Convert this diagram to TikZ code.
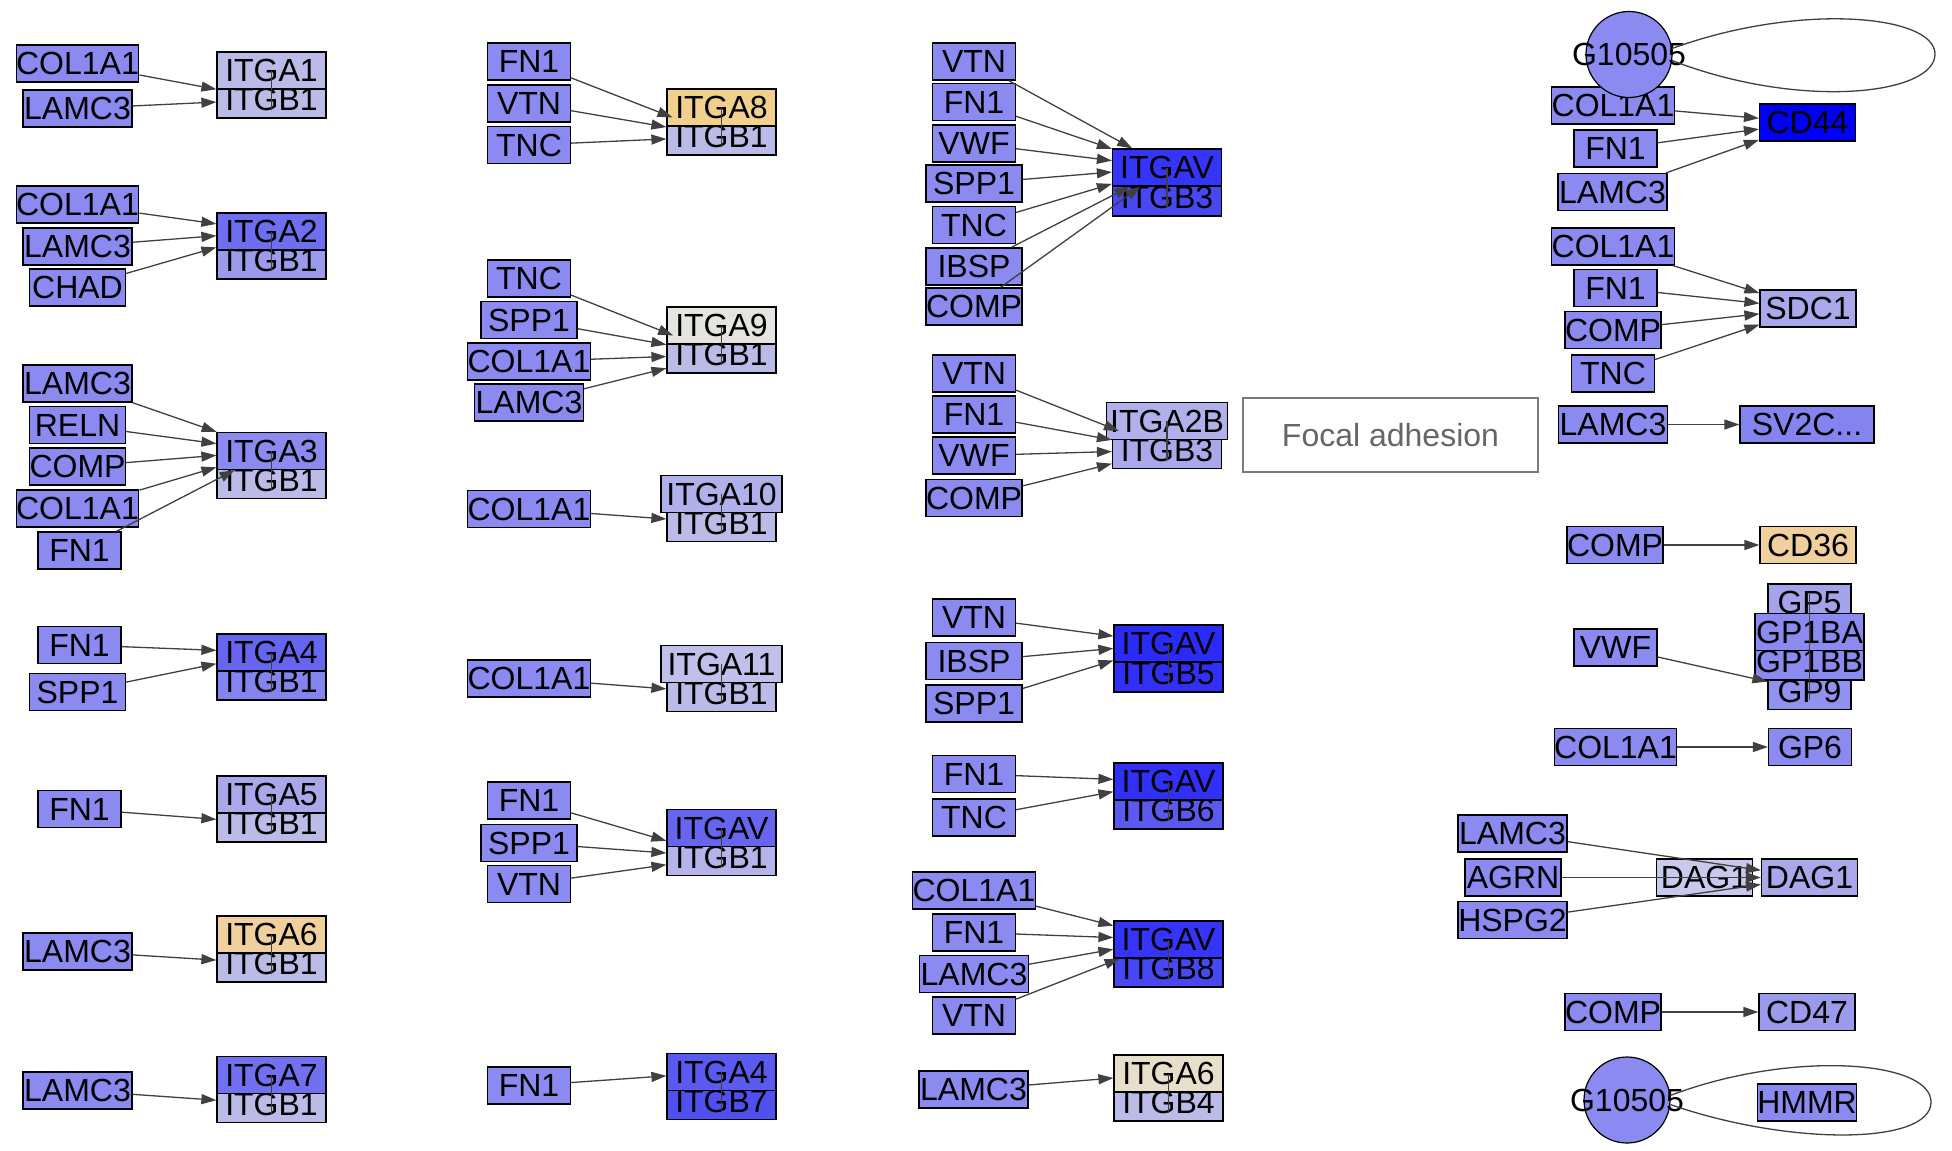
\documentclass[tikz,border=0pt]{standalone}
\usepackage{fontspec}
\setmainfont{Liberation Sans}
\usetikzlibrary{arrows.meta}

\definecolor{ligblue}{HTML}{8A8AF0}
\definecolor{paleb}{HTML}{BBBBE8}
\definecolor{midb}{HTML}{9B9BEB}
\definecolor{deepb}{HTML}{6E6EF0}
\definecolor{deepc}{HTML}{6565F0}
\definecolor{softb}{HTML}{8484F0}
\definecolor{lilac}{HTML}{A8A8EA}
\definecolor{lilacb}{HTML}{B0B0EA}
\definecolor{lilacc}{HTML}{C0C0EA}
\definecolor{lilacd}{HTML}{B4B4EA}
\definecolor{sand}{HTML}{F0D09C}
\definecolor{sandb}{HTML}{F0D08C}
\definecolor{chalk}{HTML}{E6E4E0}
\definecolor{beige}{HTML}{E8DFCB}
\definecolor{royal}{HTML}{7070F0}
\definecolor{royalb}{HTML}{5A5AF0}
\definecolor{royalc}{HTML}{5050F0}
\definecolor{strong}{HTML}{3434FA}
\definecolor{strongb}{HTML}{4848F2}
\definecolor{strongc}{HTML}{2A2AFA}
\definecolor{strongd}{HTML}{3030F8}
\definecolor{pureb}{HTML}{0000F5}
\definecolor{edgegray}{HTML}{404040}
\definecolor{notegray}{HTML}{7A7A7A}
\definecolor{notetext}{HTML}{666666}

\newcommand{\genefont}{\fontsize{32}{32}\selectfont}

\begin{document}
\begin{tikzpicture}[
    x=1pt, y=-1pt,
    >={Triangle[length=15pt,width=10pt]},
    gene/.style={draw=black, line width=1.2pt, inner sep=0pt, minimum height=37pt, font=\genefont},
    lig/.style={gene, fill=ligblue},
    w3/.style={minimum width=83pt},
    w4/.style={minimum width=96pt},
    w5/.style={minimum width=109pt},
    w6/.style={minimum width=121pt},
    w7/.style={minimum width=134pt},
    hub/.style={circle, draw=black, line width=1.2pt, fill=ligblue, minimum size=86pt, inner sep=0pt,
                label={[font=\genefont]center:#1}},
    link/.style={->, draw=edgegray, line width=1.3pt},
    tie/.style={draw=edgegray, line width=1.3pt},
    note/.style={draw=notegray, line width=1.3pt, minimum width=295pt, minimum height=74pt, text=notetext, font=\genefont}
]
\useasboundingbox (0,0) rectangle (1952,1151);

% column 1
\node[lig,w6] (g1col) at (77.5,63.5) {COL1A1};
\node[lig,w5] (g1lam) at (77.5,108.5) {LAMC3};
\node[gene,w5,fill=paleb] (g1b) at (271.5,99.5) {ITGB1};
\node[gene,w5,fill=paleb] (g1a) at (271.5,70.5) {ITGA1};

\node[lig,w6] (g2col) at (77.5,204.5) {COL1A1};
\node[lig,w5] (g2lam) at (77.5,246.5) {LAMC3};
\node[lig,w4] (g2chad) at (77.5,287.5) {CHAD};
\node[gene,w5,fill=midb] (g2b) at (271.5,260.5) {ITGB1};
\node[gene,w5,fill=deepb] (g2a) at (271.5,231.5) {ITGA2};

\node[lig,w5] (g3lam) at (77.5,383.5) {LAMC3};
\node[lig,w4] (g3reln) at (77.5,425) {RELN};
\node[lig,w4] (g3comp) at (77.5,466.5) {COMP};
\node[lig,w6] (g3col) at (77.5,508.5) {COL1A1};
\node[lig,w3] (g3fn) at (79.5,550.5) {FN1};
\node[gene,w5,fill=paleb] (g3b) at (271.5,480) {ITGB1};
\node[gene,w5,fill=ligblue] (g3a) at (271.5,451) {ITGA3};

\node[lig,w3] (g4fn) at (79.5,645) {FN1};
\node[lig,w4] (g4spp) at (77.5,692) {SPP1};
\node[gene,w5,fill=softb] (g4b) at (271.5,681.5) {ITGB1};
\node[gene,w5,fill=deepc] (g4a) at (271.5,652.5) {ITGA4};

\node[lig,w3] (g5fn) at (79.5,809) {FN1};
\node[gene,w5,fill=paleb] (g5b) at (271.5,823.5) {ITGB1};
\node[gene,w5,fill=lilac] (g5a) at (271.5,794.5) {ITGA5};

\node[lig,w5] (g6lam) at (77.5,951.5) {LAMC3};
\node[gene,w5,fill=paleb] (g6b) at (271.5,963.5) {ITGB1};
\node[gene,w5,fill=sand] (g6a) at (271.5,934.5) {ITGA6};

\node[lig,w5] (g7lam) at (77.5,1090.5) {LAMC3};
\node[gene,w5,fill=paleb] (g7b) at (271.5,1104) {ITGB1};
\node[gene,w5,fill=royal] (g7a) at (271.5,1075) {ITGA7};

% column 2
\node[lig,w3] (g8fn) at (529,61.5) {FN1};
\node[lig,w3] (g8vtn) at (529,103.5) {VTN};
\node[lig,w3] (g8tnc) at (529,145) {TNC};
\node[gene,w5,fill=paleb] (g8b) at (721.5,136.5) {ITGB1};
\node[gene,w5,fill=sandb] (g8a) at (721.5,107.5) {ITGA8};

\node[lig,w3] (g9tnc) at (529,278.5) {TNC};
\node[lig,w4] (g9spp) at (529,320) {SPP1};
\node[lig,w6] (g9col) at (529,361.5) {COL1A1};
\node[lig,w5] (g9lam) at (529,402.5) {LAMC3};
\node[gene,w5,fill=paleb] (g9b) at (721.5,354.5) {ITGB1};
\node[gene,w5,fill=chalk] (g9a) at (721.5,325.5) {ITGA9};

\node[lig,w6] (g10col) at (529,509) {COL1A1};
\node[gene,w5,fill=paleb] (g10b) at (721.5,523) {ITGB1};
\node[gene,w6,fill=lilacb] (g10a) at (721.5,494) {ITGA10};

\node[lig,w6] (g11col) at (529,678.5) {COL1A1};
\node[gene,w5,fill=paleb] (g11b) at (721.5,693) {ITGB1};
\node[gene,w6,fill=lilacc] (g11a) at (721.5,664) {ITGA11};

\node[lig,w3] (g12fn) at (529,800.5) {FN1};
\node[lig,w4] (g12spp) at (529,843) {SPP1};
\node[lig,w3] (g12vtn) at (529,884) {VTN};
\node[gene,w5,fill=lilacd] (g12b) at (721.5,857) {ITGB1};
\node[gene,w5,fill=deepc] (g12a) at (721.5,828) {ITGAV};

\node[lig,w3] (g13fn) at (529,1085.5) {FN1};
\node[gene,w5,fill=royalc] (g13b) at (721.5,1101) {ITGB7};
\node[gene,w5,fill=royalb] (g13a) at (721.5,1072) {ITGA4};

% column 3
\node[lig,w3] (g14vtn) at (974,61.5) {VTN};
\node[lig,w3] (g14fn) at (974,102) {FN1};
\node[lig,w3] (g14vwf) at (974,143.5) {VWF};
\node[lig,w4] (g14spp) at (974,183.5) {SPP1};
\node[lig,w3] (g14tnc) at (974,225) {TNC};
\node[lig,w4] (g14ibsp) at (974,266.5) {IBSP};
\node[lig,w4] (g14comp) at (974,306.5) {COMP};
\node[gene,w5,fill=strongb] (g14b) at (1167,197.5) {ITGB3};
\node[gene,w5,fill=strong] (g14a) at (1167,167.5) {ITGAV};

\node[lig,w3] (g15vtn) at (974,373.5) {VTN};
\node[lig,w3] (g15fn) at (974,414.5) {FN1};
\node[lig,w3] (g15vwf) at (974,455.5) {VWF};
\node[lig,w4] (g15comp) at (974,498) {COMP};
\node[gene,w5,fill=lilac] (g15b) at (1167,450) {ITGB3};
\node[gene,w6,fill=lilacb] (g15a) at (1167,421) {ITGA2B};

\node[lig,w3] (g16vtn) at (974,617.5) {VTN};
\node[lig,w4] (g16ibsp) at (974,661) {IBSP};
\node[lig,w4] (g16spp) at (974,703.5) {SPP1};
\node[gene,w5,fill=strongd] (g16b) at (1168.5,673.5) {ITGB5};
\node[gene,w5,fill=strongc] (g16a) at (1168.5,643.5) {ITGAV};

\node[lig,w3] (g17fn) at (974,774) {FN1};
\node[lig,w3] (g17tnc) at (974,817.5) {TNC};
\node[gene,w5,fill=royalb] (g17b) at (1168.5,810.5) {ITGB6};
\node[gene,w5,fill=strongd] (g17a) at (1168.5,781.5) {ITGAV};

\node[lig,w6] (g18col) at (974,890.5) {COL1A1};
\node[lig,w3] (g18fn) at (974,932.5) {FN1};
\node[lig,w5] (g18lam) at (974,974) {LAMC3};
\node[lig,w3] (g18vtn) at (974,1015.5) {VTN};
\node[gene,w5,fill=strongb] (g18b) at (1168.5,968.5) {ITGB8};
\node[gene,w5,fill=strong] (g18a) at (1168.5,939.5) {ITGAV};

\node[lig,w5] (g19lam) at (973.5,1089.5) {LAMC3};
\node[gene,w5,fill=paleb] (g19b) at (1168.5,1102.5) {ITGB4};
\node[gene,w5,fill=beige] (g19a) at (1168.5,1073.5) {ITGA6};

\node[note] (focal) at (1390.5,435) {Focal adhesion};

% column 4
\node[lig,w6] (g20col) at (1613,105.5) {COL1A1};
\node[hub=G10505] (hubA) at (1629,54.5) {};
\node[lig,w3] (g20fn) at (1615.5,148.5) {FN1};
\node[lig,w5] (g20lam) at (1612.5,192) {LAMC3};
\node[gene,w4,fill=pureb] (cd44) at (1807.5,122.5) {CD44};

\node[lig,w6] (g21col) at (1613,246.5) {COL1A1};
\node[lig,w3] (g21fn) at (1615.5,288) {FN1};
\node[lig,w4] (g21comp) at (1613,330) {COMP};
\node[lig,w3] (g21tnc) at (1613,373.5) {TNC};
\node[gene,w4,fill=lilac] (sdc1) at (1808,308.5) {SDC1};

\node[lig,w5] (g22lam) at (1613,424.5) {LAMC3};
\node[gene,w7,fill=softb] (sv2c) at (1807,424.5) {SV2C...};

\node[lig,w4] (g23comp) at (1615,545) {COMP};
\node[gene,w4,fill=sand] (cd36) at (1808,545) {CD36};

\node[lig,w3] (g24vwf) at (1615.5,647.5) {VWF};
\node[gene,w3,fill=lilac!85!ligblue] (gp5) at (1809.5,602.5) {GP5};
\node[gene,w3,fill=ligblue!85!paleb] (gp9) at (1809.5,691) {GP9};
\node[gene,w5,fill=ligblue] (gp1bb) at (1809.5,661.5) {GP1BB};
\node[gene,w5,fill=ligblue] (gp1ba) at (1809.5,632) {GP1BA};

\node[lig,w6] (g25col) at (1615.5,747) {COL1A1};
\node[gene,w3,fill=ligblue] (gp6) at (1810,747) {GP6};

\node[lig,w5] (g26lam) at (1512.5,833.5) {LAMC3};
\node[lig,w4] (g26agrn) at (1513,877.5) {AGRN};
\node[lig,w5] (g26hspg) at (1512.5,920) {HSPG2};
\node[gene,w4,fill=paleb!80!white] (dagL) at (1704.5,877.5) {DAG1};
\node[gene,w4,fill=lilac] (dagR) at (1809.5,877.5) {DAG1};

\node[lig,w4] (g27comp) at (1613,1012) {COMP};
\node[gene,w4,fill=midb] (cd47) at (1807,1012) {CD47};

\node[hub=G10505] (hubB) at (1627,1100) {};
\node[gene,w4,fill=ligblue] (hmmr) at (1807,1102.5) {HMMR};

% complex ties
\foreach \g in {g1,g2,g3,g4,g5,g6,g7,g8,g9,g10,g11,g12,g13,g14,g15,g16,g17,g18,g19}
  \draw[tie] (\g a.center) -- ([yshift=-10pt]\g b.center);
\draw[tie] ([yshift=9pt]gp5.center) -- ([yshift=-9pt]gp9.center);

% edges
\draw[link] (g1col) -- (g1b);
\draw[link] (g1lam) -- (g1b);
\foreach \s in {g2col,g2lam,g2chad} \draw[link] (\s) -- (g2a);
\foreach \s in {g3lam,g3reln,g3comp,g3col,g3fn} \draw[link] (\s) -- (g3a);
\foreach \s in {g4fn,g4spp} \draw[link] (\s) -- (g4a);
\draw[link] (g5fn) -- (g5b);
\draw[link] (g6lam) -- (g6b);
\draw[link] (g7lam) -- (g7b);

\foreach \s in {g8fn,g8vtn,g8tnc} \draw[link] (\s) -- (g8b);
\foreach \s in {g9tnc,g9spp,g9col,g9lam} \draw[link] (\s) -- (g9b);
\draw[link] (g10col) -- (g10b);
\draw[link] (g11col) -- (g11b);
\foreach \s in {g12fn,g12spp,g12vtn} \draw[link] (\s) -- (g12b);
\draw[link] (g13fn) -- (g13a);

\foreach \s in {g14vtn,g14fn,g14vwf,g14spp,g14tnc,g14ibsp,g14comp} \draw[link] (\s) -- (g14a);
\foreach \s in {g15vtn,g15fn,g15vwf,g15comp} \draw[link] (\s) -- (g15b);
\foreach \s in {g16vtn,g16ibsp,g16spp} \draw[link] (\s) -- (g16a);
\foreach \s in {g17fn,g17tnc} \draw[link] (\s) -- (g17a);
\foreach \s in {g18col,g18fn,g18lam,g18vtn} \draw[link] (\s) -- (g18a);
\draw[link] (g19lam) -- (g19a);

\foreach \s in {g20col,g20fn,g20lam} \draw[link] (\s) -- (cd44);
\foreach \s in {g21col,g21fn,g21comp,g21tnc} \draw[link] (\s) -- (sdc1);
\draw[link] (g22lam) -- (sv2c);
\draw[link] (g23comp) -- (cd36);
\draw[link] (g24vwf) -- (gp9);
\draw[link] (g25col) -- (gp6);
\foreach \s in {g26lam,g26agrn,g26hspg} \draw[link] (\s) -- (dagR);
\draw[link] (g27comp) -- (cd47);

% self loops
\draw[tie] (hubA.8) .. controls (1800,2) and (1935,15) .. (1935,54) .. controls (1935,95) and (1800,110) .. (hubA.-8);
\draw[tie] (hubB.6) .. controls (1790,1050) and (1931,1060) .. (1931,1102) .. controls (1931,1145) and (1790,1146) .. (hubB.-6);
\end{tikzpicture}
\end{document}
